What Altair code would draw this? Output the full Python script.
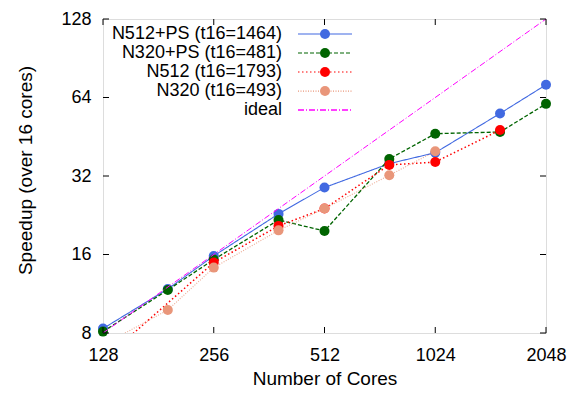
import altair as alt
import pandas as pd

# ---- data ----
cores = [128, 192, 256, 384, 512, 768, 1024, 1536, 2048]
n512ps = [8.32, 11.8, 15.8, 22.9, 28.9, 35.7, 39.3, 55.6, 71.6]
n320ps = [8.1, 11.7, 15.3, 21.7, 19.7, 37.2, 46.5, 47.2, 60.5]
n512 = [6.3, None, 14.9, 20.6, 24.0, 35.3, 36.2, 48.0, None]
n320 = [7.2, 9.8, 14.25, 19.8, 24.0, 32.2, 39.8, None, None]
ideal_cores = [128, 2048]
ideal_speedup = [8, 128]

labels = ["N512+PS (t16=1464)", "N320+PS (t16=481)", "N512 (t16=1793)",
          "N320 (t16=493)", "ideal"]
colors = ["#4169E1", "#006400", "#FF0000", "#E9967A", "#FF00FF"]
dashes = [[1, 0], [4, 2], [1.5, 2.5], [1, 1.5], [6, 2, 1, 2]]
widths = [1.1, 1.3, 1.5, 1.1, 1.0]
opac = [1, 1, 1, 0.8, 1]
x_ticks = [128, 256, 512, 1024, 2048]
y_ticks = [8, 16, 32, 64, 128]

FONT = "Liberation Sans"
W, H = 443, 314

xs = alt.Scale(type="log", base=2, domain=[128, 2048], nice=False)
ys = alt.Scale(type="log", base=2, domain=[8, 128], nice=False)

x_axis = alt.Axis(values=x_ticks, format="d", title="Number of Cores",
                  tickSize=0, domain=False, grid=False, labelFlush=False,
                  labelFont=FONT, labelFontSize=18, labelColor="black",
                  labelPadding=13, titleFont=FONT, titleFontSize=19,
                  titleFontWeight="normal", titleColor="black",
                  titleY=51, titleBaseline="alphabetic")
y_axis = alt.Axis(values=y_ticks, format="d", title="Speedup (over 16 cores)",
                  tickSize=0, domain=False, grid=False,
                  labelFont=FONT, labelFontSize=18, labelColor="black",
                  labelPadding=12, titleFont=FONT, titleFontSize=19,
                  titleFontWeight="normal", titleColor="black",
                  titleX=-72, titleY=151, titleAngle=270, titleAlign="center",
                  titleBaseline="alphabetic")

series = [n512ps, n320ps, n512, n320]
rows = []
for lab, vals in zip(labels[:4], series):
    for c, v in zip(cores, vals):
        if v is not None:
            rows.append({"series": lab, "cores": c, "speedup": v})
df = pd.DataFrame(rows)
ideal_df = pd.DataFrame({"cores": ideal_cores, "speedup": ideal_speedup})

layers = []
first = True
for i, lab in enumerate(labels[:4]):
    sdf = df[df["series"] == lab]
    line = alt.Chart(sdf).mark_line(
        clip=True, color=colors[i], strokeDash=dashes[i],
        strokeWidth=widths[i], opacity=opac[i]
    ).encode(
        x=alt.X("cores:Q", scale=xs, axis=x_axis),
        y=alt.Y("speedup:Q", scale=ys, axis=y_axis if first else None),
    )
    first = False
    pts = alt.Chart(sdf[sdf["speedup"] >= 8]).mark_circle(
        size=100, opacity=1, color=colors[i]
    ).encode(
        x=alt.X("cores:Q", scale=xs, axis=x_axis),
        y=alt.Y("speedup:Q", scale=ys, axis=None),
    )
    layers += [line, pts]

ideal = alt.Chart(ideal_df).mark_line(
    clip=True, color=colors[4], strokeDash=dashes[4], strokeWidth=widths[4]
).encode(
    x=alt.X("cores:Q", scale=xs, axis=x_axis),
    y=alt.Y("speedup:Q", scale=ys, axis=None),
)
layers.append(ideal)

# inward mirror ticks
xt = pd.DataFrame({"v": x_ticks})
yt = pd.DataFrame({"v": y_ticks})
tick_kw = dict(color="black", strokeWidth=1)
layers.append(alt.Chart(xt).mark_rule(**tick_kw).encode(
    x=alt.X("v:Q", scale=xs, axis=x_axis), y=alt.value(H), y2=alt.value(H - 6)))
layers.append(alt.Chart(xt).mark_rule(**tick_kw).encode(
    x=alt.X("v:Q", scale=xs, axis=x_axis), y=alt.value(0), y2=alt.value(6)))
layers.append(alt.Chart(yt).mark_rule(**tick_kw).encode(
    y=alt.Y("v:Q", scale=ys, axis=None), x=alt.value(0), x2=alt.value(6)))
layers.append(alt.Chart(yt).mark_rule(**tick_kw).encode(
    y=alt.Y("v:Q", scale=ys, axis=None), x=alt.value(W), x2=alt.value(W - 6)))

# key (top-left, gnuplot style: label then sample)
leg = pd.DataFrame({"label": labels, "row": list(range(5))})
ly = alt.Y("row:O", scale=alt.Scale(type="point", domain=list(range(5)),
                                     range=[15, 91], padding=0), axis=None)
col = alt.Color("label:N", scale=alt.Scale(domain=labels, range=colors), legend=None)
layers.append(alt.Chart(leg).mark_text(
    align="right", baseline="middle", font=FONT, fontSize=18, color="black"
).encode(x=alt.value(179), y=ly, text="label:N"))
layers.append(alt.Chart(leg).mark_rule().encode(
    x=alt.value(195), x2=alt.value(249), y=ly, color=col,
    strokeDash=alt.StrokeDash("label:N", scale=alt.Scale(domain=labels, range=dashes), legend=None),
    strokeWidth=alt.StrokeWidth("label:N", scale=alt.Scale(domain=labels, range=widths), legend=None),
))
layers.append(alt.Chart(leg[leg["row"] < 4]).mark_circle(size=100, opacity=1).encode(
    x=alt.value(222), y=ly, color=col))

chart = alt.layer(*layers).resolve_scale(y="independent").properties(
    width=W, height=H,
    autosize=alt.AutoSizeParams(type="none"),
    padding={"left": 95, "top": 11, "right": 22, "bottom": 57},
).configure_view(stroke="black", strokeWidth=1).configure(background="white")

chart.save("out.html", embed_options={"renderer": "svg", "actions": False})
